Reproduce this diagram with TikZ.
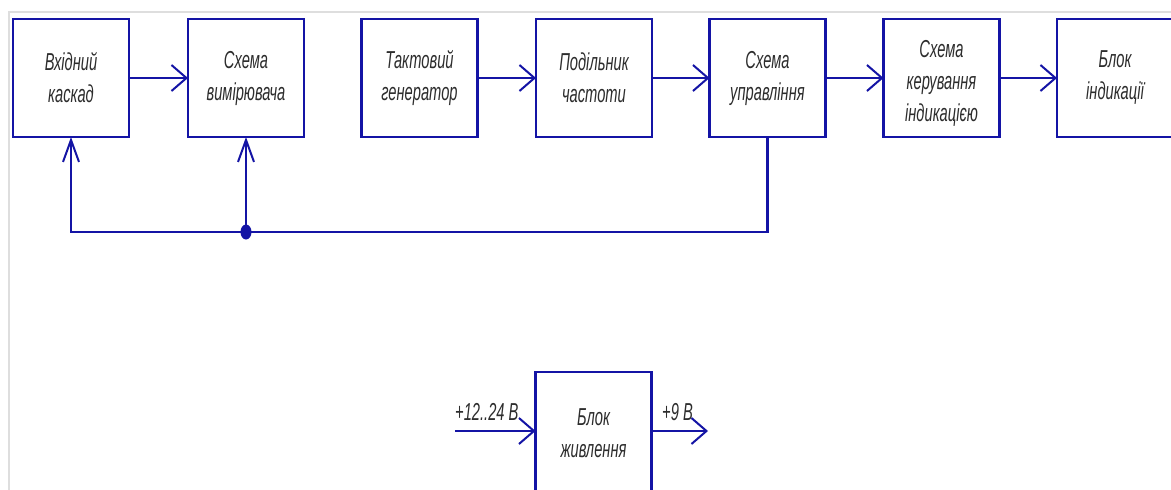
\documentclass[tikz,border=0pt]{standalone}
\usepackage{fontspec}
\setmainfont{Liberation Sans}[FakeStretch=0.6]
\usetikzlibrary{arrows.meta}
\definecolor{lineblue}{RGB}{20,20,165}
\definecolor{framegray}{RGB}{222,222,222}
\definecolor{txt}{RGB}{45,45,45}
\tikzset{
  txtfont/.style={text=txt, font=\fontsize{24.5}{32}\selectfont\itshape},
  blk/.style={draw=lineblue, line width=2.5pt, minimum width=116pt, minimum height=118pt,
    inner sep=0pt, outer sep=0pt, align=center, txtfont},
  conn/.style={draw=lineblue, line width=2.5pt},
  harr/.style={conn, -{Straight Barb[length=15pt,width=26pt,line width=2pt]}},
  varr/.style={conn, -{Straight Barb[length=22pt,width=16pt,line width=2pt]}},
  lbl/.style={txtfont, inner sep=0pt, anchor=base west},
}
\begin{document}
\begin{tikzpicture}[x=1pt,y=-1pt]
\useasboundingbox (0,0) rectangle (1171,490);
\fill[white] (0,0) rectangle (1171,490);
\draw[framegray, line width=2pt] (9,12) rectangle (1180,500);
% top row
\node[blk] (b1) at (71,78) {Вхідний\\каскад};
\node[blk] (b2) at (246,78) {Схема\\вимірювача};
\node[blk] (b3) at (419.5,78) {Тактовий\\генератор};
\node[blk] (b4) at (594,78) {Подільник\\частоти};
\node[blk] (b5) at (767.5,78) {Схема\\управління};
\node[blk] (b6) at (941.5,78) {};
\node[txtfont, align=center, inner sep=0pt] (b6t) at (941.5,83) {Схема\\керування\\індикацією};
\node[blk] (b7) at (1115,78) {Блок\\індикації};
\draw[harr] (b1) -- (b2);
\draw[harr] (b3) -- (b4);
\draw[harr] (b4) -- (b5);
\draw[harr] (b5) -- (b6);
\draw[harr] (b6) -- (b7);
% feedback
\coordinate (j) at (246,232);
\draw[varr] (b5.south) |- (b1.south |- j) -- (b1.south);
\draw[varr] (j) -- (b2.south);
\fill[lineblue] (j) ellipse (5.5pt and 7.5pt);
% power block
\node[blk, minimum height=122pt] (pw) at (593.5,433) {Блок\\живлення};
\coordinate (in) at (455,431);
\coordinate (out) at (708,431);
\draw[harr] (in) -- (in -| pw.west);
\draw[harr] (in -| pw.east) -- (out);
\node[lbl] (lin) at (455,420) {+12..24 В};
\node[lbl] (lout) at (662,420) {+9 В};
\end{tikzpicture}
\end{document}
